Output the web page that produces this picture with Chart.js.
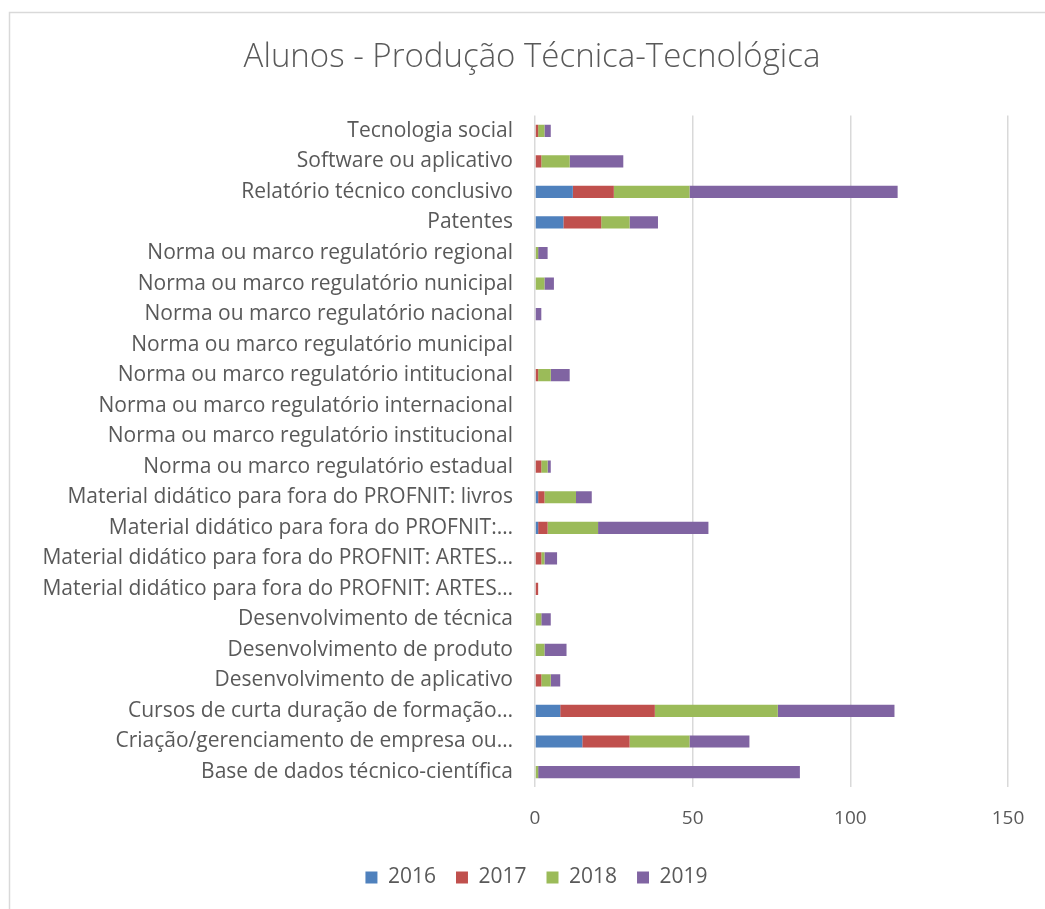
<!DOCTYPE html>
<html>
<head>
<meta charset="utf-8">
<script src="https://cdn.jsdelivr.net/npm/chart.js@4/dist/chart.umd.min.js"></script>
<style>
  html, body { margin: 0; padding: 0; background: #ffffff; }
  #wrap { width: 1045px; height: 909px; position: relative; }
</style>
</head>
<body>
<div id="wrap"><canvas id="c" width="1045" height="909"></canvas></div>
<script>
const categories = [
  "Tecnologia social",
  "Software ou aplicativo",
  "Relatório técnico conclusivo",
  "Patentes",
  "Norma ou marco regulatório regional",
  "Norma ou marco regulatório nunicipal",
  "Norma ou marco regulatório nacional",
  "Norma ou marco regulatório municipal",
  "Norma ou marco regulatório intitucional",
  "Norma ou marco regulatório internacional",
  "Norma ou marco regulatório institucional",
  "Norma ou marco regulatório estadual",
  "Material didático para fora do PROFNIT: livros",
  "Material didático para fora do PROFNIT:…",
  "Material didático para fora do PROFNIT: ARTES…",
  "Material didático para fora do PROFNIT: ARTES…",
  "Desenvolvimento de técnica",
  "Desenvolvimento de produto",
  "Desenvolvimento de aplicativo",
  "Cursos de curta duração de formação…",
  "Criação/gerenciamento de empresa ou…",
  "Base de dados técnico-científica"
];
const series2016 = [0, 0, 12, 9, 0, 0, 0, 0, 0, 0, 0, 0, 1, 1, 0, 0, 0, 0, 0, 8, 15, 0];
const series2017 = [1, 2, 13, 12, 0, 0, 0, 0, 1, 0, 0, 2, 2, 3, 2, 1, 0, 0, 2, 30, 15, 0];
const series2018 = [2, 9, 24, 9, 1, 3, 0, 0, 4, 0, 0, 2, 10, 16, 1, 0, 2, 3, 3, 39, 19, 1];
const series2019 = [2, 17, 66, 9, 3, 3, 2, 0, 6, 0, 0, 1, 5, 35, 4, 0, 3, 7, 3, 37, 19, 83];
const seriesNames = ["2016", "2017", "2018", "2019"];
const xTicks = [0, 50, 100, 150];
const chartTitle = "Alunos - Produção Técnica-Tecnológica";

const colors = ["#4F81BD", "#C0504D", "#9BBB59", "#8064A2"];
const textColor = "#595959";
const FONT = "'Open Sans', 'DejaVu Sans', sans-serif";

const frame = {
  id: 'frame',
  afterLayout(chart) {
    // centre title and legend over the whole frame, as in the reference
    if (chart.titleBlock) { chart.titleBlock.left = 56; }
    if (chart.legend) { chart.legend.left = 65; }
  },
  beforeDraw(chart) {
    const ctx = chart.ctx;
    ctx.save();
    ctx.strokeStyle = '#d9d9d9';
    ctx.lineWidth = 1.5;
    ctx.beginPath();
    ctx.moveTo(9.5, 909);
    ctx.lineTo(9.5, 12.5);
    ctx.lineTo(1045, 12.5);
    ctx.stroke();
    ctx.restore();
  }
};

const allSeries = [series2016, series2017, series2018, series2019];

new Chart(document.getElementById('c'), {
  type: 'bar',
  data: {
    labels: categories,
    datasets: seriesNames.map((n, i) => ({
      label: n,
      data: allSeries[i],
      backgroundColor: colors[i],
      borderWidth: 0,
      categoryPercentage: 1.0,
      barPercentage: 0.4
    }))
  },
  options: {
    indexAxis: 'y',
    responsive: false,
    animation: false,
    layout: { padding: { left: 0, right: 37, top: 0, bottom: 11 } },
    scales: {
      x: {
        stacked: true,
        min: 0,
        max: 150,
        afterBuildTicks(scale) { scale.ticks = xTicks.map(v => ({ value: v })); },
        afterFit(scale) { scale.height = 59.7; },
        grid: { color: '#d9d9d9', lineWidth: 1.5, drawTicks: false },
        border: { display: false },
        ticks: { color: textColor, font: { family: FONT, size: 19 }, padding: 20 }
      },
      y: {
        stacked: true,
        afterFit(scale) { scale.width = 535; },
        grid: { display: false, drawTicks: false },
        border: { display: false },
        ticks: { color: textColor, font: { family: FONT, size: 21 }, padding: 22, autoSkip: false }
      }
    },
    plugins: {
      title: {
        display: true,
        text: chartTitle,
        color: textColor,
        font: { family: FONT, size: 33, weight: '300', lineHeight: 1.2 },
        padding: { top: 38, bottom: 38 }
      },
      legend: {
        position: 'bottom',
        labels: {
          color: textColor,
          font: { family: FONT, size: 21 },
          boxWidth: 12,
          boxHeight: 12,
          padding: 20
        }
      },
      tooltip: { enabled: false }
    }
  },
  plugins: [frame]
});
</script>
</body>
</html>
